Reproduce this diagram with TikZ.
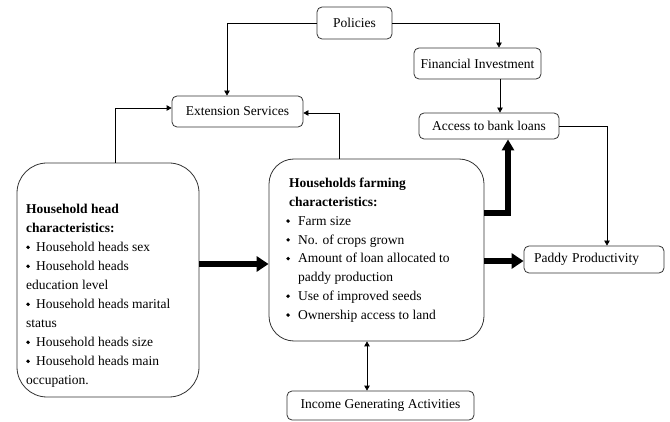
\documentclass[tikz,border=0pt]{standalone}
\usepackage{fontspec}
\setmainfont{Liberation Serif}
\newcommand\mybul{\tikz[baseline=0pt]\fill (1.9pt,4.3pt) circle[radius=1.9pt];}
\usetikzlibrary{arrows.meta}
\begin{document}
\begin{tikzpicture}[x=1pt,y=-1pt,
  box/.style={draw=black!80, line width=0.8pt, rounded corners=5pt, inner sep=0pt, font=\fontsize{13.5}{19}\selectfont},
  bigbox/.style={draw=black!80, line width=0.8pt, inner sep=0pt},
  txt/.style={anchor=north west, align=left, inner sep=0pt, font=\fontsize{13.5}{19}\selectfont},
  conn/.style={draw, line width=0.8pt, -{Triangle[length=5pt,width=5.5pt]}},
  fat/.style={draw, line width=6pt, line join=miter, -{Triangle[length=12pt,width=15pt]}}]
\useasboundingbox (0,0) rectangle (670,422);

\node[box, minimum width=75pt, minimum height=32pt] (pol) at (354.5,23) {Policies};
\node[box, minimum width=127pt, minimum height=31pt] (fin) at (477.5,63.5) {Financial Investment};
\node[box, minimum width=131pt, minimum height=31pt] (ext) at (237.5,111.5) {Extension Services};
\node[box, minimum width=140pt, minimum height=26pt] (bank) at (489,126) {Access to bank loans};
\node[box, minimum width=140pt, minimum height=27pt, text width=120pt, align=left] (paddy) at (594,259.5) {Paddy Productivity};
\node[box, minimum width=187pt, minimum height=29pt] (inc) at (380.5,405.5) {Income Generating Activities};
\node[bigbox, rounded corners=30pt, minimum width=182pt, minimum height=234pt] (hh) at (108,280) {};
\node[bigbox, rounded corners=25pt, minimum width=215pt, minimum height=182pt] (farm) at (376.5,250) {};

\node[txt] (hhtxt) at (26,204) {\textbf{Household head}\\
\textbf{characteristics:}\\
\makebox[10pt][l]{\mybul}Household heads sex\\
\makebox[10pt][l]{\mybul}Household heads\\
education level\\
\makebox[10pt][l]{\mybul}Household heads marital\\
status\\
\makebox[10pt][l]{\mybul}Household heads size\\
\makebox[10pt][l]{\mybul}Household heads main\\
occupation.};

\node[txt, font=\fontsize{13.5}{18.8}\selectfont] (farmtxt) at (286,178) {\hspace*{3pt}\textbf{Households farming}\\
\hspace*{3pt}\textbf{characteristics:}\\
\makebox[12pt][l]{\mybul}Farm size\\
\makebox[12pt][l]{\mybul}No. of crops grown\\
\makebox[12pt][l]{\mybul}Amount of loan allocated to\\
\hspace*{12pt}paddy production\\
\makebox[12pt][l]{\mybul}Use of improved seeds\\
\makebox[12pt][l]{\mybul}Ownership access to land};

\draw[conn] (pol.west) -| (ext.north -| 227,0);
\draw[conn] (pol.east) -| (fin.north -| 499,0);
\draw[conn] (fin.south -| 500,0) -- (bank.north -| 500,0);
\draw[conn] (bank.east) -| (paddy.north -| 607,0);
\draw[conn] (hh.north -| 115,0) |- (ext.west |- 0,108);
\draw[conn] (farm.north -| 339,0) |- (ext.east |- 0,113);
\draw[conn, {Triangle[length=5pt,width=5.5pt]}-{Triangle[length=5pt,width=5.5pt]}] (farm.south -| 367,0) -- (inc.north -| 367,0);

\draw[fat] (hh.east |- 0,264) -- (farm.west |- 0,264);
\draw[fat] (farm.east |- 0,261) -- (paddy.west |- 0,261);
\draw[fat, line width=5.5pt, -{Triangle[length=11pt,width=12pt]}] (farm.east |- 0,213) -| (bank.south -| 508,0);
\end{tikzpicture}
\end{document}
